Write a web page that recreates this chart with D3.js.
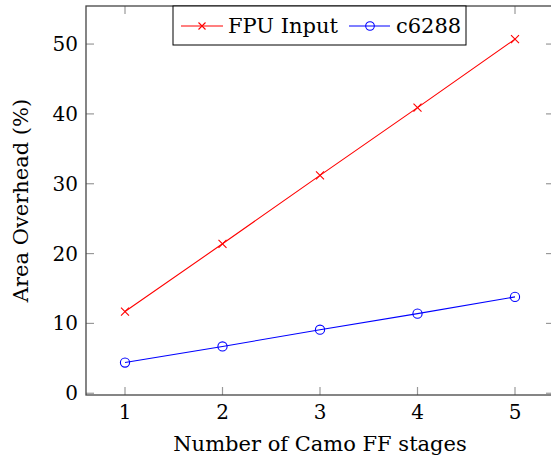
<!DOCTYPE html>
<html>
<head>
<meta charset="utf-8">
<script src="https://d3js.org/d3.v7.min.js"></script>
<style>
  body { margin: 0; background: white; }
  text { font-family: "DejaVu Serif", serif; fill: black; }
  .tick-label { font-size: 20px; }
  .axis-label { font-size: 21px; }
</style>
</head>
<body>
<div id="chart"></div>
<script>
// data
const stages = [1, 2, 3, 4, 5];
const fpuInput = [11.7, 21.4, 31.2, 40.9, 50.7];
const c6288 = [4.4, 6.7, 9.1, 11.4, 13.8];
const xTicks = [1, 2, 3, 4, 5];
const yTicks = [0, 10, 20, 30, 40, 50];

const W = 551, H = 462;
const margin = { top: 6, right: -3, bottom: 67, left: 86 };
const width = W - margin.left - margin.right,
      height = H - margin.top - margin.bottom;

const svg = d3.select("#chart").append("svg")
    .attr("width", W).attr("height", H);
const g = svg.append("g")
    .attr("transform", `translate(${margin.left},${margin.top})`);

const x = d3.scaleLinear().domain([0.6, 5.4]).range([0, width]);
const y = d3.scaleLinear().domain([-0.25, 55.45]).range([height, 0]);

const tickLen = 8;
const tickColor = "#999";

// ticks on all four sides (pgfplots style)
xTicks.forEach(t => {
    g.append("line").attr("x1", x(t)).attr("x2", x(t))
        .attr("y1", height).attr("y2", height - tickLen)
        .attr("stroke", tickColor).attr("stroke-width", 1.2);
    g.append("line").attr("x1", x(t)).attr("x2", x(t))
        .attr("y1", 0).attr("y2", tickLen)
        .attr("stroke", tickColor).attr("stroke-width", 1.2);
    g.append("text").attr("class", "tick-label")
        .attr("x", x(t)).attr("y", height + 24)
        .attr("text-anchor", "middle").text(t);
});
yTicks.forEach(t => {
    g.append("line").attr("x1", 0).attr("x2", tickLen)
        .attr("y1", y(t)).attr("y2", y(t))
        .attr("stroke", tickColor).attr("stroke-width", 1.2);
    g.append("line").attr("x1", width).attr("x2", width - tickLen)
        .attr("y1", y(t)).attr("y2", y(t))
        .attr("stroke", tickColor).attr("stroke-width", 1.2);
    g.append("text").attr("class", "tick-label")
        .attr("x", -8).attr("y", y(t) + 7)
        .attr("text-anchor", "end").text(t);
});

// axis box
g.append("rect")
    .attr("x", 0).attr("y", 0).attr("width", width).attr("height", height)
    .attr("fill", "none").attr("stroke", "#444").attr("stroke-width", 1.3);

// series
const line = d3.line().x((d, i) => x(stages[i])).y(d => y(d));

g.append("path").datum(fpuInput)
    .attr("fill", "none").attr("stroke", "red").attr("stroke-width", 1.1)
    .attr("d", line);
g.append("path").datum(c6288)
    .attr("fill", "none").attr("stroke", "blue").attr("stroke-width", 1.1)
    .attr("d", line);

function cross(sel, cx, cy, r, color) {
    sel.append("path")
        .attr("d", `M${cx - r},${cy - r}L${cx + r},${cy + r}M${cx - r},${cy + r}L${cx + r},${cy - r}`)
        .attr("stroke", color).attr("stroke-width", 1.1).attr("fill", "none");
}
function ring(sel, cx, cy, r, color) {
    sel.append("circle").attr("cx", cx).attr("cy", cy).attr("r", r)
        .attr("fill", "none").attr("stroke", color).attr("stroke-width", 1.1);
}

fpuInput.forEach((v, i) => cross(g, x(stages[i]), y(v), 4, "red"));
c6288.forEach((v, i) => ring(g, x(stages[i]), y(v), 4.6, "blue"));

// axis labels
g.append("text").attr("class", "axis-label")
    .attr("x", width / 2).attr("y", height + 56)
    .attr("text-anchor", "middle").text("Number of Camo FF stages");
g.append("text").attr("class", "axis-label")
    .attr("transform", `translate(${-58},${height / 2}) rotate(-90)`)
    .attr("text-anchor", "middle").text("Area Overhead (%)");

// legend
const lg = svg.append("g").attr("transform", "translate(173,6)");
lg.append("rect").attr("x", 0).attr("y", 0).attr("width", 293).attr("height", 39)
    .attr("fill", "white").attr("stroke", "black").attr("stroke-width", 1);
lg.append("line").attr("x1", 8).attr("x2", 50).attr("y1", 20).attr("y2", 20)
    .attr("stroke", "red").attr("stroke-width", 1.1);
cross(lg, 29, 20, 3.5, "red");
lg.append("text").attr("class", "axis-label").attr("x", 55).attr("y", 27).text("FPU Input");
lg.append("line").attr("x1", 176).attr("x2", 217).attr("y1", 20).attr("y2", 20)
    .attr("stroke", "blue").attr("stroke-width", 1.1);
ring(lg, 197, 20, 4.3, "blue");
lg.append("text").attr("class", "axis-label").attr("x", 223).attr("y", 27).text("c6288");
</script>
</body>
</html>
